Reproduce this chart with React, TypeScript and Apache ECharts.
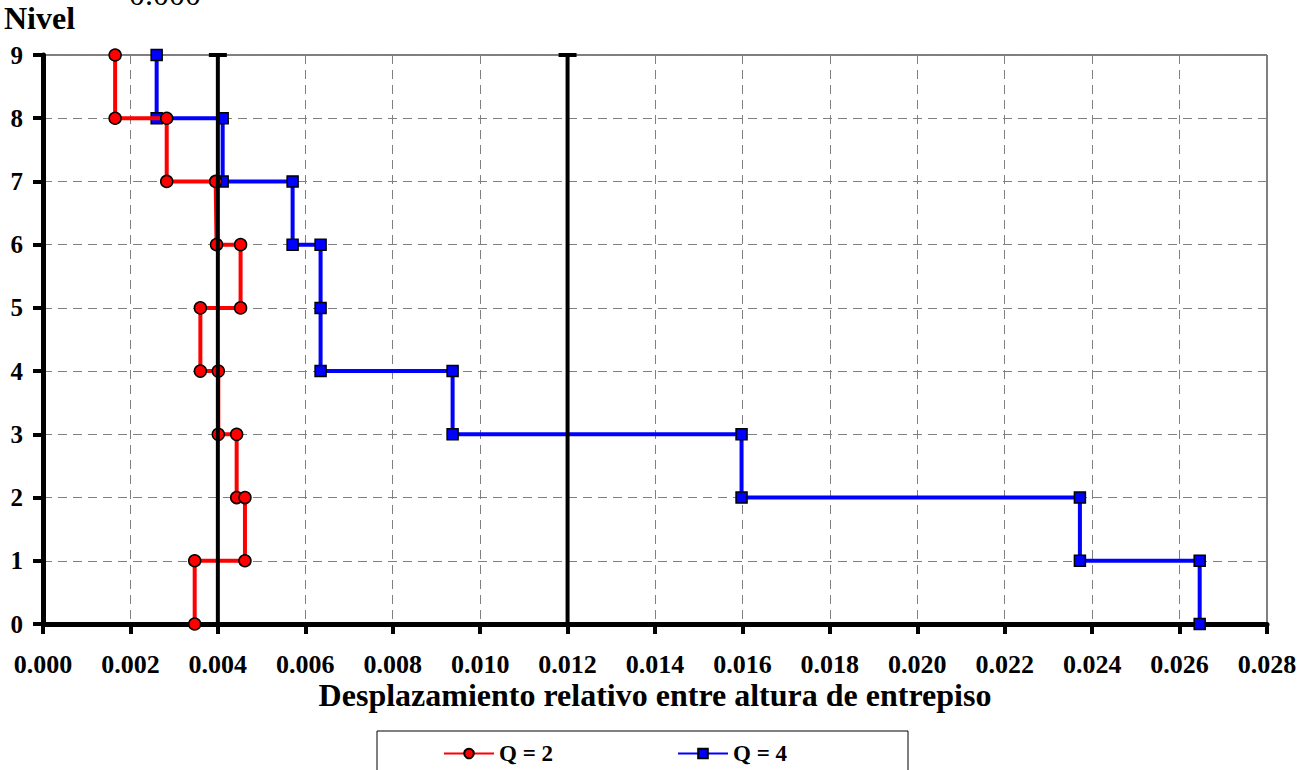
import React, { useEffect, useRef } from "react";
import * as echarts from "echarts";

const levels = [9, 8, 8, 7, 7, 6, 6, 5, 5, 4, 4, 3, 3, 2, 2, 1, 1, 0];
const q2X = [0.00165, 0.00165, 0.00283, 0.00283, 0.00395, 0.00397, 0.00452, 0.00452, 0.0036, 0.0036, 0.00401, 0.00401, 0.00443, 0.00443, 0.00462, 0.00462, 0.00347, 0.00347];

const q4Levels = [9, 8, 8, 7, 7, 6, 6, 5, 4, 4, 3, 3, 2, 2, 1, 1, 0];
const q4X = [0.0026, 0.0026, 0.00411, 0.00411, 0.00571, 0.00571, 0.00635, 0.00635, 0.00635, 0.00937, 0.00937, 0.01598, 0.01598, 0.02372, 0.02372, 0.02646, 0.02646];

const limitX = [0.004, 0.012];
const limitLevels = [0, 9];

const xTicks = [0, 0.002, 0.004, 0.006, 0.008, 0.01, 0.012, 0.014, 0.016, 0.018, 0.02, 0.022, 0.024, 0.026, 0.028];
const yTicks = [0, 1, 2, 3, 4, 5, 6, 7, 8, 9];

const FONT = "'Liberation Serif', 'Times New Roman', serif";

export default function App() {
  const ref = useRef<HTMLDivElement>(null);
  useEffect(() => {
    document.body.style.margin = "0";
    const chart = echarts.init(ref.current!, null, { renderer: "svg" });
    const q2 = q2X.map((x, i) => [x, levels[i]]);
    const q4 = q4X.map((x, i) => [x, q4Levels[i]]);
    const limitSeries = limitX.map((x) => ({
      type: "line",
      name: "lim" + x,
      data: limitLevels.map((l) => [x, l]),
      symbol: "rect",
      symbolSize: [18, 4],
      showSymbol: true,
      lineStyle: { color: "#000", width: 4 },
      itemStyle: { color: "#000" },
      z: 4,
    }));
    chart.setOption({
      animation: false,
      grid: {
        left: 43,
        right: 45,
        top: 55,
        bottom: 146,
        show: true,
        borderColor: "#000",
        borderWidth: 1,
        backgroundColor: "transparent",
      },
      xAxis: {
        type: "value",
        min: xTicks[0],
        max: xTicks[xTicks.length - 1],
        interval: 0.002,
        name: "Desplazamiento relativo entre altura de entrepiso",
        nameLocation: "middle",
        nameGap: 55,
        nameMoveOverlap: false,
        nameTextStyle: { fontFamily: FONT, fontWeight: "bold", fontSize: 32, color: "#000" },
        axisLine: { show: true, lineStyle: { color: "#000", width: 5 } },
        axisTick: { show: true, length: 10, lineStyle: { color: "#000", width: 4 } },
        axisLabel: {
          margin: 27,
          fontFamily: FONT,
          fontWeight: "bold",
          fontSize: 26,
          color: "#000",
          formatter: (v: number) => v.toFixed(3),
        },
        splitLine: { show: true, lineStyle: { color: "#808080", type: [9, 6], width: 1 } },
      },
      yAxis: {
        type: "value",
        min: yTicks[0],
        max: yTicks[yTicks.length - 1],
        interval: 1,
        axisLine: { show: true, lineStyle: { color: "#000", width: 5 } },
        axisTick: { show: true, length: 10, lineStyle: { color: "#000", width: 4 } },
        axisLabel: {
          margin: 20,
          fontFamily: FONT,
          fontWeight: "bold",
          fontSize: 25,
          color: "#000",
        },
        splitLine: { show: true, lineStyle: { color: "#808080", type: [9, 6], width: 1 } },
      },
      legend: {
        data: ["Q = 2", "Q = 4"],
        left: 438,
        top: 737,
        itemWidth: 50,
        itemHeight: 12,
        itemGap: 124,
        textStyle: { fontFamily: FONT, fontWeight: "bold", fontSize: 23, color: "#000" },
      },
      graphic: [
        {
          type: "rect",
          shape: { x: 377, y: 731, width: 531, height: 60 },
          style: { fill: "none", stroke: "#000", lineWidth: 1 },
          z: 10,
        },
        {
          type: "text",
          x: 4,
          y: 18,
          style: { text: "Nivel", font: `bold 32px ${FONT}`, fill: "#000", verticalAlign: "middle" },
        },
        {
          type: "text",
          x: 165,
          y: -6,
          style: { text: "0.000", font: `32px ${FONT}`, fill: "#000", align: "center", verticalAlign: "middle" },
        },
      ],
      series: [
        {
          type: "line",
          name: "Q = 4",
          data: q4,
          symbol: "rect",
          symbolSize: 11,
          showSymbol: true,
          lineStyle: { color: "#0000ff", width: 4 },
          itemStyle: { color: "#0000ff", borderColor: "#000", borderWidth: 1.5 },
          z: 2,
        },
        {
          type: "line",
          name: "Q = 2",
          data: q2,
          symbol: "circle",
          symbolSize: 12,
          showSymbol: true,
          lineStyle: { color: "#ff0000", width: 4 },
          itemStyle: { color: "#ff0000", borderColor: "#000", borderWidth: 1.5 },
          z: 3,
        },
        ...limitSeries,
      ],
    });
    return () => chart.dispose();
  }, []);
  return <div ref={ref} style={{ width: 1312, height: 770 }} />;
}
